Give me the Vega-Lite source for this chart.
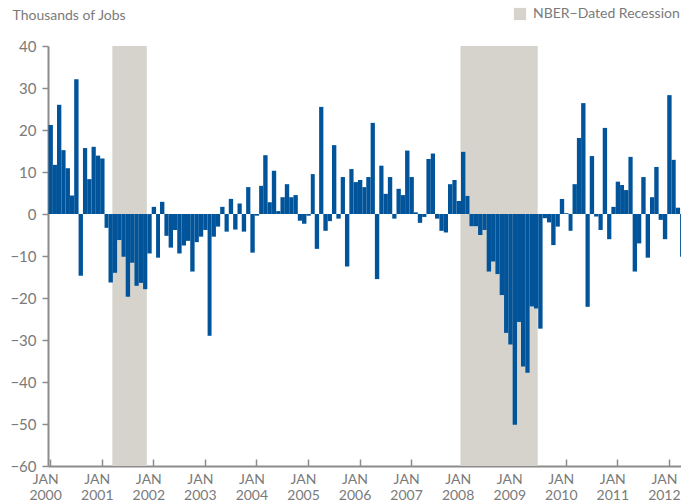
{
  "$schema": "https://vega.github.io/schema/vega-lite/v6.json",
  "width": 633,
  "height": 420,
  "autosize": "none",
  "padding": {"left": 48, "top": 46, "right": 0, "bottom": 37},
  "background": "white",
  "config": {"view": {"stroke": null}, "font": "Lato"},
  "datasets": {
    "rec": [
      {"start": "2001-04-01", "end": "2001-12-01", "label": "NBER−Dated Recession"},
      {"start": "2008-01-01", "end": "2009-07-01", "label": "NBER−Dated Recession"}
    ],
    "jobs": [
      {"month": "2000-01-01", "value": 21.2}, {"month": "2000-02-01", "value": 11.7}, {"month": "2000-03-01", "value": 26.0}, {"month": "2000-04-01", "value": 15.2},
      {"month": "2000-05-01", "value": 10.9}, {"month": "2000-06-01", "value": 4.4}, {"month": "2000-07-01", "value": 32.1}, {"month": "2000-08-01", "value": -14.7},
      {"month": "2000-09-01", "value": 15.7}, {"month": "2000-10-01", "value": 8.3}, {"month": "2000-11-01", "value": 16.0}, {"month": "2000-12-01", "value": 13.9},
      {"month": "2001-01-01", "value": 13.2}, {"month": "2001-02-01", "value": -3.3}, {"month": "2001-03-01", "value": -16.3}, {"month": "2001-04-01", "value": -14.0},
      {"month": "2001-05-01", "value": -6.2}, {"month": "2001-06-01", "value": -10.2}, {"month": "2001-07-01", "value": -19.7}, {"month": "2001-08-01", "value": -11.6},
      {"month": "2001-09-01", "value": -17.1}, {"month": "2001-10-01", "value": -16.4}, {"month": "2001-11-01", "value": -17.9}, {"month": "2001-12-01", "value": -9.4},
      {"month": "2002-01-01", "value": 1.7}, {"month": "2002-02-01", "value": -10.4}, {"month": "2002-03-01", "value": 2.9}, {"month": "2002-04-01", "value": -5.2},
      {"month": "2002-05-01", "value": -8.0}, {"month": "2002-06-01", "value": -3.8}, {"month": "2002-07-01", "value": -9.4}, {"month": "2002-08-01", "value": -7.5},
      {"month": "2002-09-01", "value": -6.4}, {"month": "2002-10-01", "value": -13.7}, {"month": "2002-11-01", "value": -6.7}, {"month": "2002-12-01", "value": -5.4},
      {"month": "2003-01-01", "value": -3.8}, {"month": "2003-02-01", "value": -29.0}, {"month": "2003-03-01", "value": -5.4}, {"month": "2003-04-01", "value": -3.0},
      {"month": "2003-05-01", "value": 1.7}, {"month": "2003-06-01", "value": -4.2}, {"month": "2003-07-01", "value": 3.6}, {"month": "2003-08-01", "value": -3.7},
      {"month": "2003-09-01", "value": 2.5}, {"month": "2003-10-01", "value": -4.2}, {"month": "2003-11-01", "value": 6.4}, {"month": "2003-12-01", "value": -9.2},
      {"month": "2004-01-01", "value": -0.4}, {"month": "2004-02-01", "value": 6.7}, {"month": "2004-03-01", "value": 14.0}, {"month": "2004-04-01", "value": 2.8},
      {"month": "2004-05-01", "value": 10.3}, {"month": "2004-06-01", "value": 0.7}, {"month": "2004-07-01", "value": 4.0}, {"month": "2004-08-01", "value": 7.1},
      {"month": "2004-09-01", "value": 4.0}, {"month": "2004-10-01", "value": 4.5}, {"month": "2004-11-01", "value": -1.6}, {"month": "2004-12-01", "value": -2.3},
      {"month": "2005-01-01", "value": -0.4}, {"month": "2005-02-01", "value": 9.5}, {"month": "2005-03-01", "value": -8.3}, {"month": "2005-04-01", "value": 25.5},
      {"month": "2005-05-01", "value": -4.0}, {"month": "2005-06-01", "value": -1.7}, {"month": "2005-07-01", "value": 16.4}, {"month": "2005-08-01", "value": -1.1},
      {"month": "2005-09-01", "value": 8.8}, {"month": "2005-10-01", "value": -12.5}, {"month": "2005-11-01", "value": 10.7}, {"month": "2005-12-01", "value": 7.6},
      {"month": "2006-01-01", "value": 8.1}, {"month": "2006-02-01", "value": 6.4}, {"month": "2006-03-01", "value": 8.8}, {"month": "2006-04-01", "value": 21.7},
      {"month": "2006-05-01", "value": -15.5}, {"month": "2006-06-01", "value": 11.5}, {"month": "2006-07-01", "value": 4.8}, {"month": "2006-08-01", "value": 8.8},
      {"month": "2006-09-01", "value": -1.1}, {"month": "2006-10-01", "value": 6.0}, {"month": "2006-11-01", "value": 4.5}, {"month": "2006-12-01", "value": 15.1},
      {"month": "2007-01-01", "value": 8.8}, {"month": "2007-02-01", "value": 0.4}, {"month": "2007-03-01", "value": -2.1}, {"month": "2007-04-01", "value": -0.7},
      {"month": "2007-05-01", "value": 13.1}, {"month": "2007-06-01", "value": 14.4}, {"month": "2007-07-01", "value": -1.1}, {"month": "2007-08-01", "value": -4.0},
      {"month": "2007-09-01", "value": -4.4}, {"month": "2007-10-01", "value": 7.1}, {"month": "2007-11-01", "value": 8.1}, {"month": "2007-12-01", "value": 3.1},
      {"month": "2008-01-01", "value": 14.8}, {"month": "2008-02-01", "value": 4.3}, {"month": "2008-03-01", "value": -2.9}, {"month": "2008-04-01", "value": -2.9},
      {"month": "2008-05-01", "value": -5.0}, {"month": "2008-06-01", "value": -3.8}, {"month": "2008-07-01", "value": -13.7}, {"month": "2008-08-01", "value": -11.3},
      {"month": "2008-09-01", "value": -14.3}, {"month": "2008-10-01", "value": -19.3}, {"month": "2008-11-01", "value": -28.3}, {"month": "2008-12-01", "value": -31.1},
      {"month": "2009-01-01", "value": -50.2}, {"month": "2009-02-01", "value": -25.7}, {"month": "2009-03-01", "value": -36.3}, {"month": "2009-04-01", "value": -37.8},
      {"month": "2009-05-01", "value": -22.0}, {"month": "2009-06-01", "value": -22.5}, {"month": "2009-07-01", "value": -27.3}, {"month": "2009-08-01", "value": -1.0},
      {"month": "2009-09-01", "value": -2.0}, {"month": "2009-10-01", "value": -7.4}, {"month": "2009-11-01", "value": -3.0}, {"month": "2009-12-01", "value": 3.6},
      {"month": "2010-01-01", "value": 0.2}, {"month": "2010-02-01", "value": -4.0}, {"month": "2010-03-01", "value": 7.1}, {"month": "2010-04-01", "value": 18.1},
      {"month": "2010-05-01", "value": 26.4}, {"month": "2010-06-01", "value": -22.1}, {"month": "2010-07-01", "value": 13.8}, {"month": "2010-08-01", "value": -0.6},
      {"month": "2010-09-01", "value": -3.8}, {"month": "2010-10-01", "value": 20.5}, {"month": "2010-11-01", "value": -6.0}, {"month": "2010-12-01", "value": 1.7},
      {"month": "2011-01-01", "value": 7.7}, {"month": "2011-02-01", "value": 6.9}, {"month": "2011-03-01", "value": 5.7}, {"month": "2011-04-01", "value": 13.6},
      {"month": "2011-05-01", "value": -13.7}, {"month": "2011-06-01", "value": -7.0}, {"month": "2011-07-01", "value": 8.8}, {"month": "2011-08-01", "value": -10.4},
      {"month": "2011-09-01", "value": 4.0}, {"month": "2011-10-01", "value": 11.2}, {"month": "2011-11-01", "value": -1.4}, {"month": "2011-12-01", "value": -6.0},
      {"month": "2012-01-01", "value": 28.3}, {"month": "2012-02-01", "value": 12.9}, {"month": "2012-03-01", "value": 1.5}, {"month": "2012-04-01", "value": -10.2}
    ]
  },
  "layer": [
    {
      "data": {"name": "rec"},
      "mark": {"type": "rect", "clip": true},
      "encoding": {
        "x": {
          "field": "start", "type": "temporal",
          "scale": {"type": "utc", "domain": [{"year": 2000, "month": 1, "date": 1, "utc": true}, {"year": 2012, "month": 4, "date": 11, "utc": true}]},
          "axis": {
            "title": null, "grid": false,
            "values": [
              {"year": 2000, "month": 1, "date": 16, "utc": true}, {"year": 2001, "month": 1, "date": 16, "utc": true},
              {"year": 2002, "month": 1, "date": 16, "utc": true}, {"year": 2003, "month": 1, "date": 16, "utc": true},
              {"year": 2004, "month": 1, "date": 16, "utc": true}, {"year": 2005, "month": 1, "date": 16, "utc": true},
              {"year": 2006, "month": 1, "date": 16, "utc": true}, {"year": 2007, "month": 1, "date": 16, "utc": true},
              {"year": 2008, "month": 1, "date": 16, "utc": true}, {"year": 2009, "month": 1, "date": 16, "utc": true},
              {"year": 2010, "month": 1, "date": 16, "utc": true}, {"year": 2011, "month": 1, "date": 16, "utc": true},
              {"year": 2012, "month": 1, "date": 16, "utc": true}
            ],
            "labelExpr": "['JAN', utcFormat(datum.value, '%Y')]",
            "tickSize": -7, "tickColor": "#8c8c8c", "tickWidth": 1.5,
            "domainColor": "#8c8c8c", "domainWidth": 2,
            "labelFont": "Lato", "labelFontSize": 14, "labelColor": "#7a7a7a",
            "labelPadding": 13, "labelOverlap": false, "labelFlush": false,
            "labelOffset": -5, "labelLineHeight": 16, "labelBaseline": "top"
          }
        },
        "x2": {"field": "end"},
        "y": {
          "datum": 40, "type": "quantitative",
          "scale": {"domain": [-60, 40], "nice": false},
          "axis": {
            "values": [-60, -50, -40, -30, -20, -10, 0, 10, 20, 30, 40],
            "grid": false, "tickSize": 6, "tickColor": "#8c8c8c", "tickWidth": 1.5,
            "domainColor": "#8c8c8c", "domainWidth": 2,
            "labelFont": "Lato", "labelFontSize": 15, "labelColor": "#7a7a7a", "labelPadding": 6,
            "title": "Thousands of Jobs", "titleAngle": 0, "titleAlign": "left", "titleBaseline": "middle",
            "titleX": -36, "titleY": -31, "titleFont": "Lato", "titleFontSize": 14, "titleFontWeight": "normal", "titleColor": "#7a7a7a"
          }
        },
        "y2": {"datum": -60},
        "color": {
          "field": "label", "type": "nominal",
          "scale": {"range": ["#d6d3cc"]},
          "legend": {
            "orient": "none", "legendX": 465, "legendY": -39, "title": null,
            "symbolType": "square", "symbolSize": 150, "symbolStrokeWidth": 0,
            "labelFont": "Lato", "labelFontSize": 14, "labelColor": "#7a7a7a", "labelLimit": 400, "labelOffset": 6
          }
        }
      }
    },
    {
      "data": {"name": "jobs"},
      "mark": {"type": "bar", "color": "#02549a", "clip": true, "binSpacing": 0},
      "encoding": {
        "x": {"field": "month", "timeUnit": "utcyearmonth", "type": "temporal"},
        "y": {"field": "value", "type": "quantitative"}
      }
    }
  ]
}
